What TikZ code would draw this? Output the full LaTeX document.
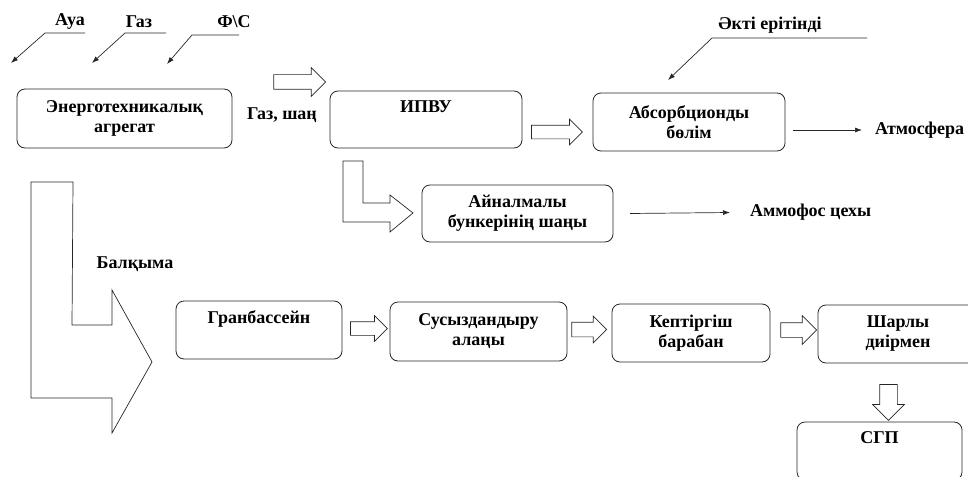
\documentclass[tikz,border=0pt]{standalone}
\usepackage{fontspec}
\setmainfont{Liberation Serif}
\usetikzlibrary{shapes.arrows,arrows.meta}

\begin{document}
\begin{tikzpicture}[x=1pt, y=-1pt, outer sep=0, draw=black!85,
    box/.style={draw, rounded corners=8pt, align=center, line width=0.8pt, font=\bfseries\fontsize{18}{20}\selectfont},
    lbl/.style={inner sep=2pt, font=\bfseries\fontsize{18}{20}\selectfont},
    blockarrow/.style={draw, single arrow, inner xsep=0, line width=0.7pt},
    feed/.style={-{Latex[length=7pt,width=5pt]}, line width=0.7pt}]
    \useasboundingbox (0,0) rectangle (968,476);
    \node[box, minimum width=215pt, minimum height=59pt] (energo) at (124.5,118.5) {Энерготехникалық\\агрегат};
    \node[box, minimum width=192pt, minimum height=57pt] (ipvu) at (426,119.5) {ИПВУ\\\strut};
    \node[box, minimum width=192pt, minimum height=58pt] (absorb) at (689,122) {Абсорбционды\\бөлім};
    \node[box, minimum width=191pt, minimum height=57pt] (bunker) at (517.5,213.5) {Айналмалы\\бункерінің шаңы};
    \node[box, minimum width=166pt, minimum height=58pt] (granb) at (259,330) {Гранбассейн\\\strut};
    \node[box, minimum width=177pt, minimum height=59pt] (susyz) at (478.5,331.5) {Сусыздандыру\\алаңы};
    \node[box, minimum width=158pt, minimum height=58pt] (kept) at (691,333) {Кептіргіш\\барабан};
    \node[box, minimum width=160pt, minimum height=58pt] (sharly) at (898,334) {Шарлы\\диірмен};
    \node[box, minimum width=165pt, minimum height=58pt] (sgp) at (879.5,451) {СГП\\\strut};

    \node[lbl] (aua) at (70,22) {Ауа};
    \node[lbl] (gaz) at (139,22) {Газ};
    \node[lbl] (fs) at (234,22) {Ф\textbackslash С};
    \node[lbl] (akti) at (770,25) {Әкті ерітінді};
    \node[lbl] (gazshan) at (282,115) {Газ, шаң};
    \node[lbl] (balqyma) at (135,264) {Балқыма};
    \node[lbl, anchor=west] (atm) at (873,130) {Атмосфера};
    \node[lbl, anchor=west] (ammo) at (748,212.5) {Аммофос цехы};

    \coordinate (aua-in) at (85,33);
    \coordinate (aua-tip) at (11,63);
    \coordinate (gaz-in) at (166,33);
    \coordinate (gaz-tip) at (92,63);
    \coordinate (fs-in) at (239,35);
    \coordinate (fs-tip) at (167,64);
    \coordinate (akti-in) at (867,38);
    \coordinate (akti-tip) at (668,80);
    \draw[feed] (aua-in) -- ++(-40,0) -- (aua-tip);
    \draw[feed] (gaz-in) -- ++(-41,0) -- (gaz-tip);
    \draw[feed] (fs-in) -- ++(-47,0) -- (fs-tip);
    \draw[feed] (akti-in) -- ++(-155,0) -- (akti-tip);
    \draw[feed] ([xshift=8pt,yshift=-8pt]absorb.east) -- ([xshift=-11pt]atm.west);
    \draw[feed] ([xshift=17pt]bunker.east) -- ([xshift=-18pt]ammo.west);

    \node[blockarrow, minimum height=52pt, inner ysep=7pt, single arrow head extend=7pt] (a-gaz) at (296,82) {};
    \node[blockarrow, minimum height=51pt, inner ysep=6.5pt, single arrow head extend=6pt] (a-ipvu) at (553.5,132) {};
    \node[blockarrow, minimum height=37pt, inner ysep=6.5pt, single arrow head extend=6pt] (a-granb) at (365.5,328.5) {};
    \node[blockarrow, minimum height=35pt, inner ysep=7pt, single arrow head extend=6pt] (a-susyz) at (585.5,329.5) {};
    \node[blockarrow, minimum height=36pt, inner ysep=7pt, single arrow head extend=7pt] (a-kept) at (795,330) {};
    \node[blockarrow, minimum height=36pt, inner sep=8.5pt, single arrow head extend=7pt, shape border rotate=270] (a-sharly) at (888.5,398) {};

    \draw[line width=0.7pt] (343,161) -- (363,161) -- (363,203) -- (390,203) -- (390,195) -- (413,213) -- (390,232) -- (390,222) -- (343,222) -- cycle;
    \draw[line width=0.7pt] (73,182) -- (31,182) -- (31,398) -- (112,398) -- (112,433) -- (152,362) -- (112,290) -- (112,325) -- (72,325) -- cycle;
\end{tikzpicture}
\end{document}
